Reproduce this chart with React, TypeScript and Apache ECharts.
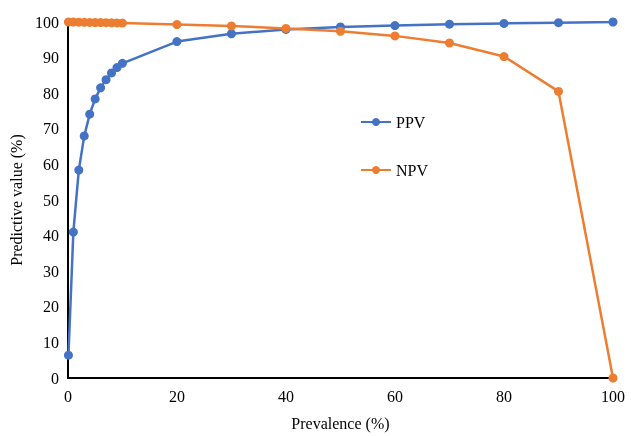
import React, { useEffect, useRef } from "react";
import * as echarts from "echarts";

const prevalence = [0.1, 1, 2, 3, 4, 5, 6, 7, 8, 9, 10, 20, 30, 40, 50, 60, 70, 80, 90, 100];
const ppv = [6.4, 41, 58.4, 68, 74.1, 78.4, 81.5, 83.8, 85.7, 87.2, 88.4, 94.5, 96.7, 97.9, 98.6, 99, 99.4, 99.6, 99.8, 100];
const npv = [100, 99.97, 99.95, 99.92, 99.89, 99.86, 99.83, 99.8, 99.77, 99.73, 99.7, 99.3, 98.9, 98.2, 97.4, 96.1, 94.1, 90.3, 80.5, 0];
const xTicks = [0, 20, 40, 60, 80, 100];

const FONT = "'Liberation Serif', 'Times New Roman', serif";

export default function App() {
  const ref = useRef<HTMLDivElement>(null);
  useEffect(() => {
    if (!ref.current) return;
    const chart = echarts.init(ref.current, null, { renderer: "svg" });
    const toPairs = (ys: number[]) => prevalence.map((x, i) => [x, ys[i]]);
    chart.setOption({
      animation: false,
      textStyle: { fontFamily: FONT, color: "#000" },
      grid: { left: 67, right: 18, top: 22, bottom: 54 },
      legend: {
        orient: "vertical",
        left: 355,
        top: 108,
        itemWidth: 30,
        itemHeight: 10,
        itemGap: 30,
        textStyle: { fontFamily: FONT, fontSize: 16, color: "#000", lineHeight: 18 },
        data: ["PPV", "NPV"],
      },
      xAxis: {
        type: "value",
        min: xTicks[0],
        max: xTicks[xTicks.length - 1],
        interval: 20,
        name: "Prevalence (%)",
        nameLocation: "middle",
        nameGap: 37,
        nameTextStyle: { fontFamily: FONT, fontSize: 16, color: "#000" },
        axisLine: { show: true, lineStyle: { color: "#000", width: 2 } },
        axisTick: { show: false },
        splitLine: { show: false },
        axisLabel: { fontFamily: FONT, fontSize: 16, color: "#000", margin: 10 },
      },
      yAxis: {
        type: "value",
        min: 0,
        max: 100,
        interval: 10,
        name: "Predictive value (%)",
        nameLocation: "middle",
        nameGap: 37,
        nameTextStyle: { fontFamily: FONT, fontSize: 16, color: "#000" },
        axisLine: { show: true, lineStyle: { color: "#000", width: 2 } },
        axisTick: { show: false },
        splitLine: { show: false },
        axisLabel: { fontFamily: FONT, fontSize: 16, color: "#000", margin: 9 },
      },
      series: [
        {
          name: "PPV",
          type: "line",
          data: toPairs(ppv),
          color: "#4472C4",
          symbol: "circle",
          symbolSize: 9,
          lineStyle: { width: 2.5 },
          z: 2,
        },
        {
          name: "NPV",
          type: "line",
          data: toPairs(npv),
          color: "#ED7D31",
          symbol: "circle",
          symbolSize: 9,
          lineStyle: { width: 2.5 },
          z: 3,
        },
      ],
    });
    return () => chart.dispose();
  }, []);
  return <div ref={ref} style={{ position: "fixed", left: 0, top: 0, width: 631, height: 436 }} />;
}
